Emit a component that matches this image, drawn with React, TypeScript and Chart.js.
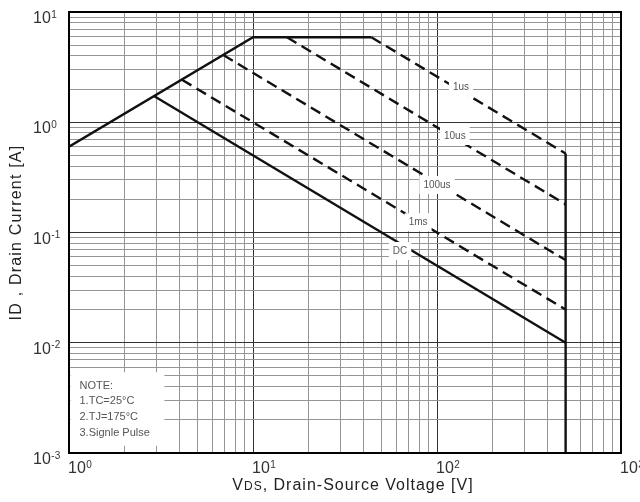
import React, { useEffect, useRef } from 'react';
import { Chart, registerables } from 'chart.js';

Chart.register(...registerables);

// ---- data (V in volts, I in amps) ----
const RDS_V = [1, 10, 44];
const RDS_I = [0.6, 5.9, 5.9];
const US1_V = [44, 500];
const US1_I = [5.9, 0.52];
const VMAX_V = [500, 500];
const VMAX_I = [0.52, 0.001];
const US10_V = [15.3, 500];
const US10_I = [5.9, 0.18];
const US100_V = [6.9, 500];
const US100_I = [4.07, 0.0562];
const MS1_V = [4.11, 500];
const MS1_I = [2.43, 0.02];
const DC_V = [2.91, 500];
const DC_I = [1.72, 0.01];

const LINE_LABELS = ['1us', '10us', '100us', '1ms', 'DC'];
const LABEL_V = [135, 125, 100, 79, 63];
const LABEL_I = [2.09, 0.75, 0.27, 0.124, 0.068];

const NOTE_LINES = ['NOTE:', '1.TC=25°C', '2.TJ=175°C', '3.Signle Pulse'];
const NOTE_BOX_V = [1, 3.3];
const NOTE_BOX_I = [0.00116, 0.0054];

const X_DECADES = [1, 10, 100, 1000];
const X_EXP = ['0', '1', '2', '3'];
const Y_DECADES = [0.001, 0.01, 0.1, 1, 10];
const Y_EXP = ['-3', '-2', '-1', '0', '1'];
const MINOR_STEPS = [1, 2, 3, 4, 5, 6, 7, 8, 9];

const X_TITLE = ['V', 'DS', ', Drain-Source Voltage [V]'];
const Y_TITLE = 'ID , Drain Current [A]';

const FONT = '"Liberation Sans", Arial, sans-serif';

const gridValues = (decades: number[]) => {
  const out: number[] = [];
  for (let i = 0; i < decades.length - 1; i++) {
    MINOR_STEPS.forEach((k) => out.push(k * decades[i]));
  }
  out.push(decades[decades.length - 1]);
  return out;
};

const isDecade = (v: number) => {
  const l = Math.log10(v);
  return Math.abs(l - Math.round(l)) < 1e-6;
};

const pts = (xs: number[], ys: number[]) => xs.map((x, i) => ({ x, y: ys[i] }));

const lineDs = (data: { x: number; y: number }[], dashed: boolean) => ({
  data,
  borderColor: '#111',
  borderWidth: 2.4,
  borderDash: dashed ? [11, 6] : [],
  pointRadius: 0,
  tension: 0,
  fill: false,
});

const sheetPlugin = {
  id: 'sheet',
  beforeDatasetsDraw(chart: any) {
    const { ctx } = chart;
    const xs = chart.scales.x;
    const ys = chart.scales.y;
    const x0 = xs.getPixelForValue(NOTE_BOX_V[0]) + 1.5;
    const x1 = xs.getPixelForValue(NOTE_BOX_V[1]);
    const y0 = ys.getPixelForValue(NOTE_BOX_I[1]);
    const y1 = ys.getPixelForValue(NOTE_BOX_I[0]);
    ctx.save();
    ctx.fillStyle = '#fff';
    ctx.fillRect(x0, y0, x1 - x0, y1 - y0);
    ctx.fillStyle = '#555';
    ctx.font = `11px ${FONT}`;
    ctx.textBaseline = 'middle';
    ctx.textAlign = 'left';
    const lh = (y1 - y0) / (NOTE_LINES.length + 0.7);
    NOTE_LINES.forEach((t, i) => {
      ctx.fillText(t, x0 + 9, y0 + lh * (i + 0.85));
    });
    ctx.restore();
  },
  afterDatasetsDraw(chart: any) {
    const { ctx, chartArea } = chart;
    const xs = chart.scales.x;
    const ys = chart.scales.y;
    ctx.save();
    ctx.font = `10px ${FONT}`;
    ctx.textAlign = 'center';
    ctx.textBaseline = 'middle';
    LINE_LABELS.forEach((t, i) => {
      const px = xs.getPixelForValue(LABEL_V[i]);
      const py = ys.getPixelForValue(LABEL_I[i]);
      const w = ctx.measureText(t).width + 8;
      const h = 18;
      ctx.fillStyle = '#fff';
      ctx.fillRect(px - w / 2, py - h / 2, w, h);
      ctx.fillStyle = '#555';
      ctx.fillText(t, px, py);
    });
    // frame
    ctx.strokeStyle = '#000';
    ctx.lineWidth = 2;
    ctx.strokeRect(chartArea.left, chartArea.top, chartArea.right - chartArea.left, chartArea.bottom - chartArea.top);
    ctx.restore();
  },
  afterDraw(chart: any) {
    const { ctx, chartArea } = chart;
    const xs = chart.scales.x;
    const ys = chart.scales.y;
    ctx.save();
    ctx.fillStyle = '#333';
    ctx.textAlign = 'left';
    ctx.textBaseline = 'alphabetic';
    const pow = (x: number, y: number, e: string) => {
      ctx.font = `16px ${FONT}`;
      ctx.fillText('10', x, y);
      const w = ctx.measureText('10').width;
      ctx.font = `10px ${FONT}`;
      ctx.fillText(e, x + w + 0.5, y - 5.5);
    };
    X_DECADES.forEach((v, i) => {
      pow(xs.getPixelForValue(v) - 1, chartArea.bottom + 20, X_EXP[i]);
    });
    Y_DECADES.forEach((v, i) => {
      pow(33, ys.getPixelForValue(v) + 11, Y_EXP[i]);
    });
    // x title
    ctx.fillStyle = '#222';
    (ctx as any).letterSpacing = '1px';
    const big = `16px ${FONT}`;
    const small = `12px ${FONT}`;
    const widths: number[] = [];
    X_TITLE.forEach((t, i) => {
      ctx.font = i === 1 ? small : big;
      widths.push(ctx.measureText(t).width);
    });
    const total = widths.reduce((a, b) => a + b, 0);
    let x = (chartArea.left + chartArea.right) / 2 + 8 - total / 2;
    const by = chartArea.bottom + 37;
    X_TITLE.forEach((t, i) => {
      ctx.font = i === 1 ? small : big;
      ctx.fillText(t, x, by);
      x += widths[i];
    });
    // y title
    ctx.font = big;
    (ctx as any).letterSpacing = '1.2px';
    ctx.translate(21, (chartArea.top + chartArea.bottom) / 2);
    ctx.rotate(-Math.PI / 2);
    ctx.textAlign = 'center';
    ctx.fillText(Y_TITLE, 0, 0);
    ctx.restore();
  },
};

export default function App() {
  const ref = useRef<HTMLCanvasElement | null>(null);
  useEffect(() => {
    document.body.style.margin = '0';
    const canvas = ref.current;
    if (!canvas) return;
    const gridColor = (c: any) => (c.tick && isDecade(c.tick.value) ? '#333' : '#959595');
    const chart = new Chart(canvas, {
      type: 'line',
      data: {
        datasets: [
          lineDs(pts(RDS_V, RDS_I), false),
          lineDs(pts(US1_V, US1_I), true),
          lineDs(pts(VMAX_V, VMAX_I), false),
          lineDs(pts(US10_V, US10_I), true),
          lineDs(pts(US100_V, US100_I), true),
          lineDs(pts(MS1_V, MS1_I), true),
          lineDs(pts(DC_V, DC_I), false),
        ],
      },
      options: {
        animation: false,
        responsive: false,
        events: [],
        layout: { padding: { left: 69, right: 19, top: 12, bottom: 49 } },
        plugins: { legend: { display: false }, tooltip: { enabled: false } },
        scales: {
          x: {
            type: 'logarithmic',
            min: 1,
            max: 1000,
            afterBuildTicks: (s: any) => {
              s.ticks = gridValues(X_DECADES).map((value) => ({ value }));
            },
            ticks: { display: false },
            grid: { color: gridColor, lineWidth: 1, drawTicks: false },
            border: { display: true, color: '#000', width: 2 },
          },
          y: {
            type: 'logarithmic',
            min: 0.001,
            max: 10,
            afterBuildTicks: (s: any) => {
              s.ticks = gridValues(Y_DECADES).map((value) => ({ value }));
            },
            ticks: { display: false },
            grid: { color: gridColor, lineWidth: 1, drawTicks: false },
            border: { display: true, color: '#000', width: 2 },
          },
        },
      } as any,
      plugins: [sheetPlugin],
    });
    return () => chart.destroy();
  }, []);
  return (
    <div style={{ width: 640, height: 502 }}>
      <canvas ref={ref} width={640} height={502} style={{ display: 'block', width: 640, height: 502 }} />
    </div>
  );
}
